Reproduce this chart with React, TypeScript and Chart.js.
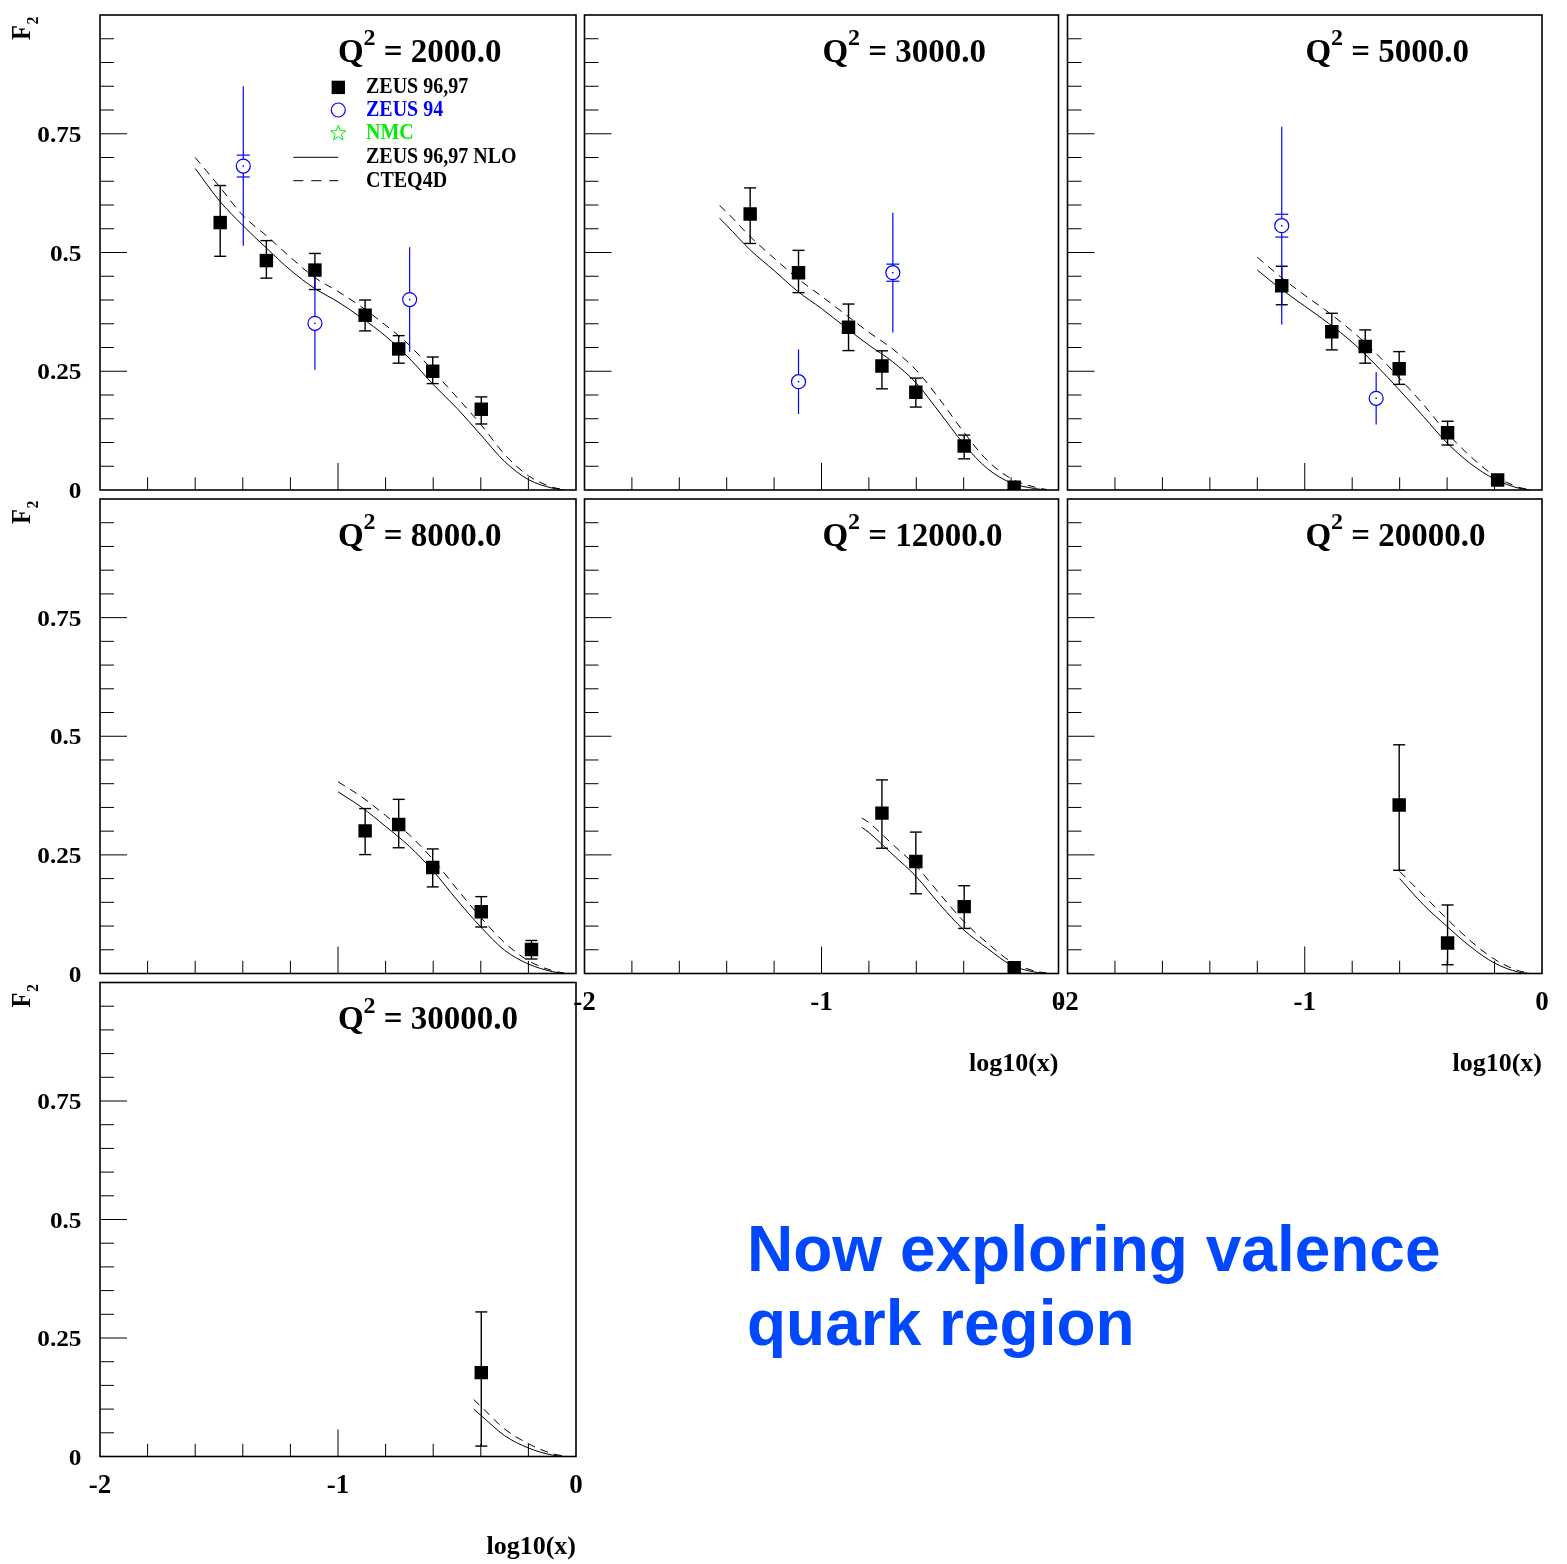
import React, { useEffect, useRef } from "react";
import { Chart, registerables } from "chart.js";
Chart.register(...registerables);

// ---------------- data ----------------
const Q2_LABELS = ["2000.0", "3000.0", "5000.0", "8000.0", "12000.0", "20000.0", "30000.0"];
const X_TICK_LABELS = ["-2", "-1", "0"];
const X_TICK_VALUES = [-2, -1, 0];
const Y_TICK_LABELS = ["0", "0.25", "0.5", "0.75"];
const Y_TICK_VALUES = [0, 0.25, 0.5, 0.75];
const LEGEND_LABELS = ["ZEUS 96,97", "ZEUS 94", "NMC", "ZEUS 96,97 NLO", "CTEQ4D"];
const X_AXIS_TITLE = "log10(x)";
const Y_AXIS_TITLE = "F";
const Y_AXIS_SUB = "2";

// Q2 = 2000
const zeusX_2000 = [-1.495, -1.301, -1.097, -0.886, -0.745, -0.602, -0.398];
const zeusY_2000 = [0.563, 0.483, 0.463, 0.368, 0.297, 0.25, 0.17];
const zeusUp_2000 = [0.078, 0.042, 0.035, 0.032, 0.028, 0.03, 0.026];
const zeusDn_2000 = [0.071, 0.037, 0.041, 0.033, 0.03, 0.026, 0.031];
const z94X_2000 = [-1.398, -1.097, -0.699];
const z94Y_2000 = [0.682, 0.351, 0.401];
const z94Stat_2000 = [0.023, 0.01, 0.013];
const z94Tot_2000 = [0.168, 0.098, 0.11];
const curveX_2000 = [-1.6, -1.5, -1.4, -1.3, -1.2, -1.1, -1.0, -0.9, -0.8, -0.7, -0.6, -0.5, -0.4, -0.3, -0.2, -0.1, -0.05];
const nlo_2000 = [0.677, 0.61, 0.557, 0.509, 0.463, 0.425, 0.396, 0.362, 0.324, 0.277, 0.222, 0.172, 0.116, 0.06, 0.022, 0.004, 0.0];
const cteq_2000 = [0.7, 0.64, 0.578, 0.535, 0.49, 0.448, 0.418, 0.385, 0.347, 0.305, 0.25, 0.195, 0.138, 0.075, 0.03, 0.006, 0.001];

// Q2 = 3000
const zeusX_3000 = [-1.301, -1.097, -0.886, -0.745, -0.602, -0.398, -0.187];
const zeusY_3000 = [0.581, 0.4575, 0.3425, 0.261, 0.2056, 0.0926, 0.006];
const zeusUp_3000 = [0.055, 0.047, 0.049, 0.032, 0.03, 0.023, 0.004];
const zeusDn_3000 = [0.062, 0.042, 0.049, 0.048, 0.031, 0.027, 0.004];
const z94X_3000 = [-1.097, -0.699];
const z94Y_3000 = [0.228, 0.4575];
const z94Stat_3000 = [0.01, 0.018];
const z94Tot_3000 = [0.068, 0.126];
const curveX_3000 = [-1.43, -1.4, -1.3, -1.2, -1.1, -1.0, -0.9, -0.8, -0.7, -0.6, -0.5, -0.4, -0.3, -0.2, -0.1, -0.05];
const nlo_3000 = [0.572, 0.557, 0.505, 0.462, 0.418, 0.382, 0.343, 0.305, 0.27, 0.225, 0.162, 0.097, 0.045, 0.015, 0.003, 0.0];
const cteq_3000 = [0.599, 0.585, 0.533, 0.488, 0.445, 0.408, 0.37, 0.332, 0.297, 0.252, 0.19, 0.122, 0.062, 0.024, 0.006, 0.001];

// Q2 = 5000
const zeusX_5000 = [-1.097, -0.886, -0.745, -0.602, -0.398, -0.187];
const zeusY_5000 = [0.43, 0.333, 0.302, 0.2554, 0.1207, 0.021];
const zeusUp_5000 = [0.041, 0.039, 0.035, 0.036, 0.024, 0.005];
const zeusDn_5000 = [0.04, 0.038, 0.035, 0.033, 0.026, 0.005];
const z94X_5000 = [-1.097, -0.699];
const z94Y_5000 = [0.5565, 0.193];
const z94Stat_5000 = [0.024, 0.01];
const z94Tot_5000 = [0.208, 0.055];
const curveX_5000 = [-1.2, -1.1, -1.0, -0.9, -0.8, -0.7, -0.6, -0.5, -0.4, -0.3, -0.2, -0.1, -0.05];
const nlo_5000 = [0.463, 0.423, 0.387, 0.351, 0.311, 0.263, 0.21, 0.155, 0.099, 0.055, 0.023, 0.004, 0.0];
const cteq_5000 = [0.49, 0.448, 0.41, 0.374, 0.334, 0.288, 0.235, 0.18, 0.12, 0.07, 0.03, 0.006, 0.001];

// Q2 = 8000
const zeusX_8000 = [-0.886, -0.745, -0.602, -0.398, -0.187];
const zeusY_8000 = [0.3006, 0.314, 0.2235, 0.13, 0.0506];
const zeusUp_8000 = [0.047, 0.053, 0.039, 0.032, 0.019];
const zeusDn_8000 = [0.05, 0.049, 0.041, 0.032, 0.02];
const curveX_8000 = [-1.0, -0.9, -0.8, -0.7, -0.6, -0.5, -0.4, -0.3, -0.2, -0.1, -0.05];
const nlo_8000 = [0.383, 0.35, 0.31, 0.268, 0.216, 0.155, 0.098, 0.049, 0.02, 0.004, 0.0];
const cteq_8000 = [0.404, 0.372, 0.333, 0.292, 0.24, 0.178, 0.118, 0.065, 0.027, 0.006, 0.001];

// Q2 = 12000
const zeusX_12000 = [-0.745, -0.602, -0.398, -0.187];
const zeusY_12000 = [0.338, 0.236, 0.141, 0.012];
const zeusUp_12000 = [0.07, 0.062, 0.044, 0.006];
const zeusDn_12000 = [0.074, 0.068, 0.046, 0.006];
const curveX_12000 = [-0.83, -0.8, -0.7, -0.6, -0.5, -0.4, -0.3, -0.2, -0.1, -0.05];
const nlo_12000 = [0.308, 0.297, 0.251, 0.204, 0.145, 0.092, 0.053, 0.018, 0.003, 0.0];
const cteq_12000 = [0.328, 0.318, 0.272, 0.226, 0.167, 0.11, 0.064, 0.025, 0.005, 0.001];

// Q2 = 20000
const zeusX_20000 = [-0.602, -0.398];
const zeusY_20000 = [0.355, 0.0644];
const zeusUp_20000 = [0.127, 0.08];
const zeusDn_20000 = [0.1375, 0.046];
const curveX_20000 = [-0.6, -0.5, -0.4, -0.3, -0.2, -0.1, -0.05];
const nlo_20000 = [0.2, 0.145, 0.099, 0.056, 0.022, 0.003, 0.0];
const cteq_20000 = [0.215, 0.165, 0.115, 0.068, 0.03, 0.006, 0.001];

// Q2 = 30000
const zeusX_30000 = [-0.398];
const zeusY_30000 = [0.177];
const zeusUp_30000 = [0.128];
const zeusDn_30000 = [0.155];
const curveX_30000 = [-0.43, -0.4, -0.3, -0.2, -0.1, -0.05];
const nlo_30000 = [0.1, 0.087, 0.044, 0.018, 0.003, 0.0];
const cteq_30000 = [0.12, 0.106, 0.058, 0.027, 0.006, 0.001];

// ---------------- layout ----------------
const COL_L = [100, 584.5, 1067.5];
const COL_R = [576, 1058.5, 1542];
const ROW_T = [15, 499, 982.5];
const ROW_B = [490, 973.5, 1456.5];
const MARGIN = { l: 100, t: 15, r: 30, b: 115 };

const BLUE = "#0000ff";
const GREEN = "#00ee00";
const SERIF = '"Liberation Serif", "Times New Roman", serif';

type Panel = {
  row: number; col: number; q2: string;
  zeusX: number[]; zeusY: number[]; zeusUp: number[]; zeusDn: number[];
  z94X: number[]; z94Y: number[]; z94Stat: number[]; z94Tot: number[];
  curveX: number[]; nlo: number[]; cteq: number[];
  yLabels: boolean; xLabels: boolean; legend: boolean;
};

const PANELS: Panel[] = [
  { row: 0, col: 0, q2: Q2_LABELS[0], zeusX: zeusX_2000, zeusY: zeusY_2000, zeusUp: zeusUp_2000, zeusDn: zeusDn_2000, z94X: z94X_2000, z94Y: z94Y_2000, z94Stat: z94Stat_2000, z94Tot: z94Tot_2000, curveX: curveX_2000, nlo: nlo_2000, cteq: cteq_2000, yLabels: true, xLabels: false, legend: true },
  { row: 0, col: 1, q2: Q2_LABELS[1], zeusX: zeusX_3000, zeusY: zeusY_3000, zeusUp: zeusUp_3000, zeusDn: zeusDn_3000, z94X: z94X_3000, z94Y: z94Y_3000, z94Stat: z94Stat_3000, z94Tot: z94Tot_3000, curveX: curveX_3000, nlo: nlo_3000, cteq: cteq_3000, yLabels: false, xLabels: false, legend: false },
  { row: 0, col: 2, q2: Q2_LABELS[2], zeusX: zeusX_5000, zeusY: zeusY_5000, zeusUp: zeusUp_5000, zeusDn: zeusDn_5000, z94X: z94X_5000, z94Y: z94Y_5000, z94Stat: z94Stat_5000, z94Tot: z94Tot_5000, curveX: curveX_5000, nlo: nlo_5000, cteq: cteq_5000, yLabels: false, xLabels: false, legend: false },
  { row: 1, col: 0, q2: Q2_LABELS[3], zeusX: zeusX_8000, zeusY: zeusY_8000, zeusUp: zeusUp_8000, zeusDn: zeusDn_8000, z94X: [], z94Y: [], z94Stat: [], z94Tot: [], curveX: curveX_8000, nlo: nlo_8000, cteq: cteq_8000, yLabels: true, xLabels: false, legend: false },
  { row: 1, col: 1, q2: Q2_LABELS[4], zeusX: zeusX_12000, zeusY: zeusY_12000, zeusUp: zeusUp_12000, zeusDn: zeusDn_12000, z94X: [], z94Y: [], z94Stat: [], z94Tot: [], curveX: curveX_12000, nlo: nlo_12000, cteq: cteq_12000, yLabels: false, xLabels: true, legend: false },
  { row: 1, col: 2, q2: Q2_LABELS[5], zeusX: zeusX_20000, zeusY: zeusY_20000, zeusUp: zeusUp_20000, zeusDn: zeusDn_20000, z94X: [], z94Y: [], z94Stat: [], z94Tot: [], curveX: curveX_20000, nlo: nlo_20000, cteq: cteq_20000, yLabels: false, xLabels: true, legend: false },
  { row: 2, col: 0, q2: Q2_LABELS[6], zeusX: zeusX_30000, zeusY: zeusY_30000, zeusUp: zeusUp_30000, zeusDn: zeusDn_30000, z94X: [], z94Y: [], z94Stat: [], z94Tot: [], curveX: curveX_30000, nlo: nlo_30000, cteq: cteq_30000, yLabels: true, xLabels: true, legend: false },
];

function geom(p: Panel) {
  const L = COL_L[p.col], R = COL_R[p.col], T = ROW_T[p.row], B = ROW_B[p.row];
  const cx = Math.floor(L) - MARGIN.l;
  const cy = Math.floor(T) - MARGIN.t;
  const cw = Math.ceil(R) - Math.floor(L) + MARGIN.l + MARGIN.r;
  const ch = Math.ceil(B) - Math.floor(T) + MARGIN.t + MARGIN.b;
  return { cx, cy, cw, ch, pl: L - cx, pt: T - cy, pr: cw - (R - cx), pb: ch - (B - cy) };
}

function txt(ctx: CanvasRenderingContext2D, s: string, x: number, y: number, size: number, color: string, align: CanvasTextAlign, sx = 1, sy = 1) {
  ctx.save();
  ctx.translate(x, y);
  ctx.scale(sx, sy);
  ctx.font = `bold ${size}px ${SERIF}`;
  ctx.fillStyle = color;
  ctx.textAlign = align;
  ctx.textBaseline = "alphabetic";
  ctx.fillText(s, 0, 0);
  ctx.restore();
}

function seg(ctx: CanvasRenderingContext2D, x1: number, y1: number, x2: number, y2: number) {
  ctx.beginPath();
  ctx.moveTo(x1, y1);
  ctx.lineTo(x2, y2);
  ctx.stroke();
}

function star(ctx: CanvasRenderingContext2D, cx: number, cy: number, r: number) {
  ctx.beginPath();
  for (let i = 0; i < 10; i++) {
    const a = -Math.PI / 2 + (i * Math.PI) / 5;
    const rr = i % 2 === 0 ? r : r * 0.42;
    const x = cx + rr * Math.cos(a), y = cy + rr * Math.sin(a);
    if (i === 0) ctx.moveTo(x, y); else ctx.lineTo(x, y);
  }
  ctx.closePath();
  ctx.stroke();
}

const CIRCLE_R = 7;

const rootPlugin = {
  id: "rootPad",
  beforeDatasetsDraw(chart: any) {
    const p: Panel = chart.options.plugins.rootPad.panel;
    const xs = chart.scales.x, ys = chart.scales.y;
    const ctx: CanvasRenderingContext2D = chart.ctx;
    ctx.save();
    ctx.strokeStyle = "#000";
    ctx.lineWidth = 1.4;
    p.zeusX.forEach((x, i) => {
      const px = xs.getPixelForValue(x);
      const top = ys.getPixelForValue(p.zeusY[i] + p.zeusUp[i]);
      const bot = ys.getPixelForValue(p.zeusY[i] - p.zeusDn[i]);
      seg(ctx, px, top, px, bot);
      seg(ctx, px - 6, top, px + 6, top);
      seg(ctx, px - 6, bot, px + 6, bot);
    });
    ctx.strokeStyle = BLUE;
    ctx.lineWidth = 1.2;
    p.z94X.forEach((x, i) => {
      const px = xs.getPixelForValue(x);
      const pc = ys.getPixelForValue(p.z94Y[i]);
      const tTop = ys.getPixelForValue(p.z94Y[i] + p.z94Tot[i]);
      const tBot = ys.getPixelForValue(p.z94Y[i] - p.z94Tot[i]);
      seg(ctx, px, tTop, px, pc - CIRCLE_R);
      seg(ctx, px, pc + CIRCLE_R, px, tBot);
      const sTop = ys.getPixelForValue(p.z94Y[i] + p.z94Stat[i]);
      const sBot = ys.getPixelForValue(p.z94Y[i] - p.z94Stat[i]);
      if (pc - sTop > CIRCLE_R) seg(ctx, px - 6.5, sTop, px + 6.5, sTop);
      if (sBot - pc > CIRCLE_R) seg(ctx, px - 6.5, sBot, px + 6.5, sBot);
    });
    ctx.restore();
  },
  afterDatasetsDraw(chart: any) {
    const p: Panel = chart.options.plugins.rootPad.panel;
    const xs = chart.scales.x, ys = chart.scales.y;
    const ctx: CanvasRenderingContext2D = chart.ctx;
    const { left: L, right: R, top: T, bottom: B } = chart.chartArea;
    ctx.save();
    // centre dots of open circles
    ctx.fillStyle = BLUE;
    p.z94X.forEach((x, i) => {
      const px = xs.getPixelForValue(x), py = ys.getPixelForValue(p.z94Y[i]);
      ctx.fillRect(px - 0.75, py - 0.75, 1.5, 1.5);
    });
    // frame
    ctx.strokeStyle = "#000";
    ctx.lineWidth = 1.6;
    ctx.strokeRect(L, T, R - L, B - T);
    // y ticks
    ctx.lineWidth = 1;
    for (let k = 1; k < 20; k++) {
      const py = ys.getPixelForValue(k * 0.05);
      const len = k % 5 === 0 ? 27 : 14;
      seg(ctx, L, py, L + len, py);
    }
    // x ticks
    for (let k = 1; k < 10; k++) {
      const v = -2 + k * 0.2;
      const px = xs.getPixelForValue(v);
      const len = k === 5 ? 27 : 12.7;
      seg(ctx, px, B, px, B - len);
    }
    // y labels
    if (p.yLabels) {
      Y_TICK_VALUES.forEach((v, i) => {
        txt(ctx, Y_TICK_LABELS[i], L - 18.5, ys.getPixelForValue(v) + 8, 23, "#000", "right", 1.1, 1);
      });
      // F2 rotated
      ctx.save();
      ctx.translate(L - 70, T + 25);
      ctx.rotate(-Math.PI / 2);
      txt(ctx, Y_AXIS_TITLE, 0, 0, 27, "#000", "left", 0.9, 1);
      txt(ctx, Y_AXIS_SUB, 15.5, 8, 16, "#000", "left");
      ctx.restore();
    }
    if (p.xLabels) {
      X_TICK_VALUES.forEach((v, i) => {
        txt(ctx, X_TICK_LABELS[i], xs.getPixelForValue(v), B + 36.5, 27, "#000", "center");
      });
      txt(ctx, X_AXIS_TITLE, R, B + 97, 26, "#000", "right");
    }
    // title
    txt(ctx, "Q", L + 238, T + 46.7, 33, "#000", "left");
    txt(ctx, "2", L + 263.5, T + 30, 24, "#000", "left");
    txt(ctx, " = " + p.q2, L + 275.5, T + 46.7, 33, "#000", "left");
    // legend
    if (p.legend) {
      const mx = L + 238.3;
      const tx = L + 266;
      const base = [78.3, 101.2, 124.3, 147.7, 172.3];
      const colors = ["#000", BLUE, GREEN, "#000", "#000"];
      LEGEND_LABELS.forEach((s, i) => txt(ctx, s, tx, T + base[i], 20, colors[i], "left", 1, 1.12));
      ctx.fillStyle = "#000";
      ctx.fillRect(mx - 6.7, T + 65.7, 13.4, 13.4);
      ctx.strokeStyle = BLUE;
      ctx.lineWidth = 1.2;
      ctx.beginPath();
      ctx.arc(mx, T + 95, CIRCLE_R, 0, Math.PI * 2);
      ctx.stroke();
      ctx.strokeStyle = GREEN;
      ctx.lineWidth = 1;
      star(ctx, mx, T + 118.3, 8);
      ctx.strokeStyle = "#000";
      ctx.lineWidth = 1;
      seg(ctx, L + 193.3, T + 142.3, mx, T + 142.3);
      ctx.setLineDash([10, 8]);
      seg(ctx, L + 193.3, T + 165.7, mx, T + 165.7);
      ctx.setLineDash([]);
    }
    ctx.restore();
  },
};

function makeConfig(p: Panel): any {
  const g = geom(p);
  return {
    type: "scatter",
    data: {
      datasets: [
        {
          label: LEGEND_LABELS[3],
          data: p.curveX.map((x, i) => ({ x, y: p.nlo[i] })),
          showLine: true,
          borderColor: "#000",
          borderWidth: 1,
          pointRadius: 0,
          cubicInterpolationMode: "monotone",
        },
        {
          label: LEGEND_LABELS[4],
          data: p.curveX.map((x, i) => ({ x, y: p.cteq[i] })),
          showLine: true,
          borderColor: "#000",
          borderWidth: 1,
          borderDash: [8, 6],
          pointRadius: 0,
          cubicInterpolationMode: "monotone",
        },
        {
          label: LEGEND_LABELS[1],
          data: p.z94X.map((x, i) => ({ x, y: p.z94Y[i] })),
          pointStyle: "circle",
          pointRadius: CIRCLE_R,
          borderColor: BLUE,
          backgroundColor: "rgba(0,0,0,0)",
          borderWidth: 1.2,
        },
        {
          label: LEGEND_LABELS[0],
          data: p.zeusX.map((x, i) => ({ x, y: p.zeusY[i] })),
          pointStyle: "rect",
          pointRadius: 9.5,
          borderWidth: 0,
          borderColor: "#000",
          backgroundColor: "#000",
        },
      ],
    },
    options: {
      animation: false,
      responsive: false,
      devicePixelRatio: 1,
      events: [],
      layout: { padding: { left: g.pl, top: g.pt, right: g.pr, bottom: g.pb } },
      scales: {
        x: { type: "linear", min: -2, max: 0, display: false },
        y: { type: "linear", min: 0, max: 1, display: false },
      },
      plugins: {
        legend: { display: false },
        tooltip: { enabled: false },
        rootPad: { panel: p },
      },
    },
    plugins: [rootPlugin],
  };
}

export default function App() {
  const refs = useRef<(HTMLCanvasElement | null)[]>([]);
  useEffect(() => {
    const charts = PANELS.map((p, i) => new Chart(refs.current[i] as HTMLCanvasElement, makeConfig(p)));
    return () => charts.forEach((c) => c.destroy());
  }, []);
  return (
    <div style={{ position: "absolute", left: 0, top: 0, width: 1567, height: 1564, background: "#fff", overflow: "hidden" }}>
      {PANELS.map((p, i) => {
        const g = geom(p);
        return (
          <canvas
            key={i}
            ref={(el) => { refs.current[i] = el; }}
            width={g.cw}
            height={g.ch}
            style={{ position: "absolute", left: g.cx, top: g.cy, width: g.cw, height: g.ch }}
          />
        );
      })}
      <div
        style={{
          position: "absolute",
          left: 747,
          top: 1212,
          font: 'bold 64px "Liberation Sans", Arial, sans-serif',
          lineHeight: "74px",
          color: "#0048ff",
          whiteSpace: "nowrap",
        }}
      >
        Now exploring valence
        <br />
        quark region
      </div>
    </div>
  );
}
